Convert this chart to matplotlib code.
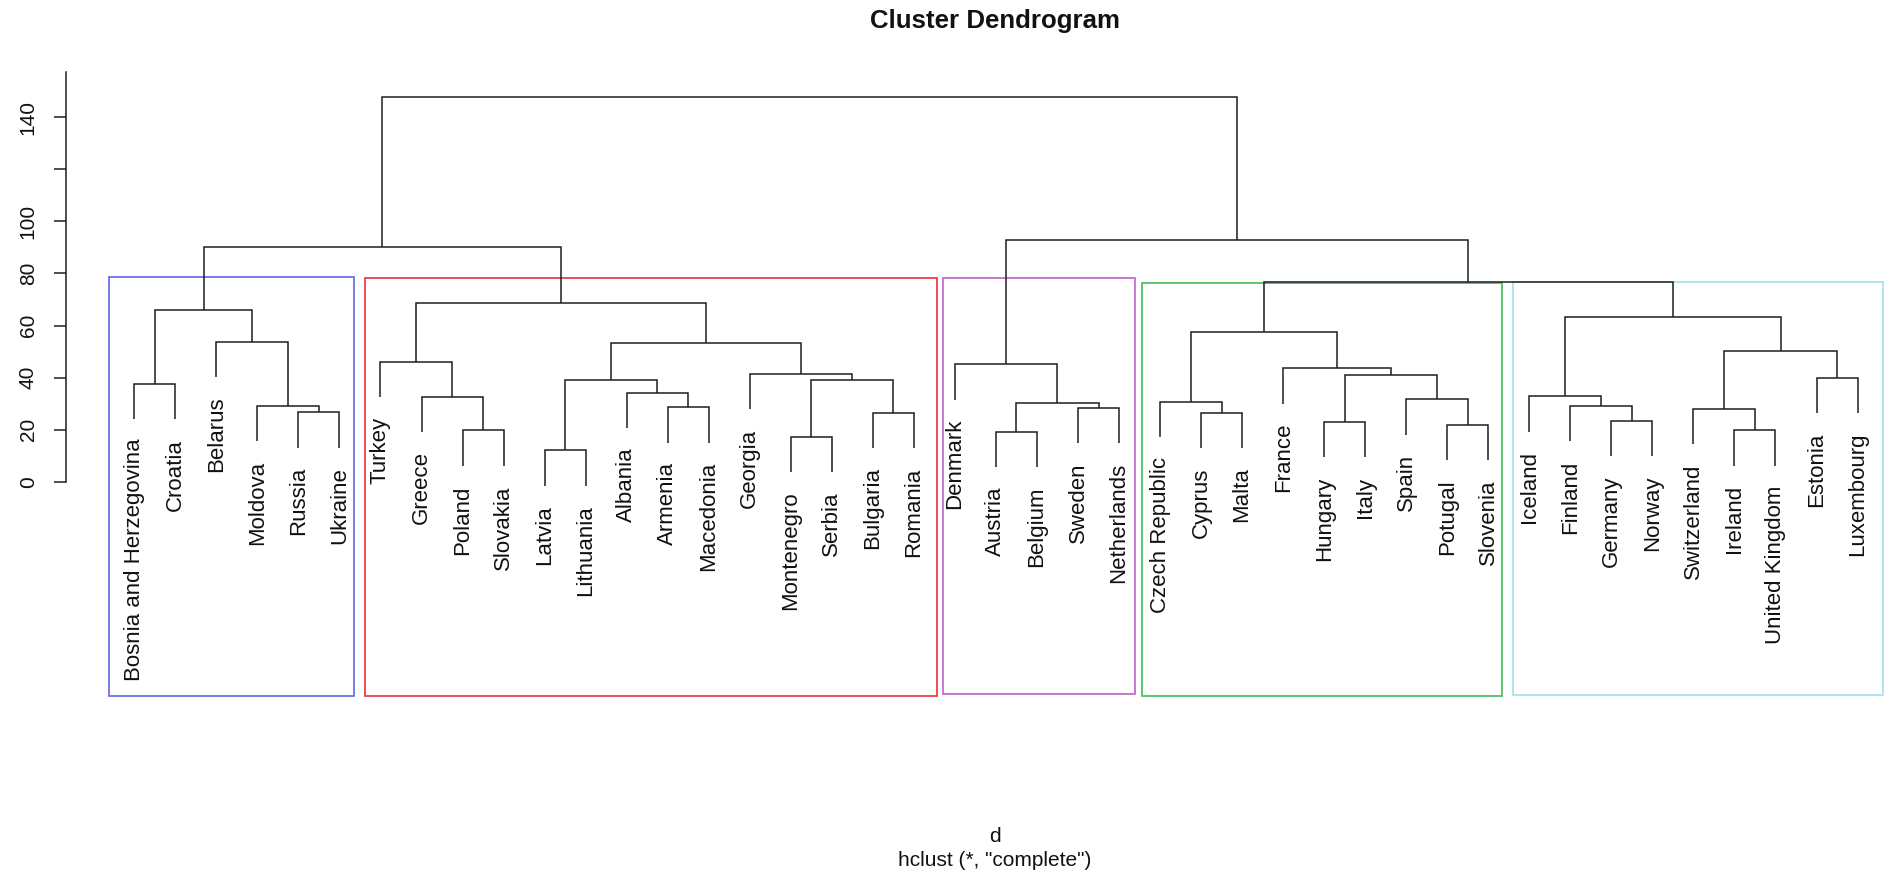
import matplotlib
matplotlib.use('Agg')
import matplotlib.pyplot as plt
from matplotlib.patches import Rectangle

plt.rcParams['font.family'] = ['Liberation Sans', 'DejaVu Sans']

# ---- data: leaf order and merges (hclust, complete linkage) ----
labels = ['Bosnia and Herzegovina', 'Croatia', 'Belarus', 'Moldova', 'Russia', 'Ukraine',
          'Turkey', 'Greece', 'Poland', 'Slovakia', 'Latvia', 'Lithuania', 'Albania',
          'Armenia', 'Macedonia', 'Georgia', 'Montenegro', 'Serbia', 'Bulgaria', 'Romania',
          'Denmark', 'Austria', 'Belgium', 'Sweden', 'Netherlands',
          'Czech Republic', 'Cyprus', 'Malta', 'France', 'Hungary', 'Italy', 'Spain',
          'Potugal', 'Slovenia',
          'Iceland', 'Finland', 'Germany', 'Norway', 'Switzerland', 'Ireland',
          'United Kingdom', 'Estonia', 'Luxembourg']

# strings = leaves, ints = index of an earlier merge
merge_a = ['Latvia', 'Montenegro', 'Austria', 'Poland', 'Ireland', 'Potugal', 'Hungary',
           'Germany', 'Bulgaria', 'Cyprus', 'Russia', 'Switzerland', 'Sweden', 'Armenia',
           'Moldova', 'Finland', 2, 'Czech Republic', 'Spain', 'Greece', 'Iceland', 'Albania',
           'Bosnia and Herzegovina', 0, 1, 'Estonia', 6, 'Georgia', 'France', 'Denmark',
           'Turkey', 11, 23, 'Belarus', 17, 20, 22, 30, 34, 36, 29, 39]
merge_b = ['Lithuania', 'Serbia', 'Belgium', 'Slovakia', 'United Kingdom', 'Slovenia', 'Italy',
           'Norway', 'Romania', 'Malta', 'Ukraine', 4, 'Netherlands', 'Macedonia',
           10, 7, 12, 9, 5, 3, 15, 13,
           'Croatia', 21, 8, 'Luxembourg', 18, 24, 26, 16,
           19, 25, 27, 14, 28, 31, 33, 32, 35, 37, 38, 40]
merge_height = [12.1, 17.2, 19.2, 19.7, 19.7, 21.8, 22.9, 23.3, 26.5, 26.5, 26.7, 28.0,
                28.4, 28.6, 29.1, 29.1, 30.1, 30.6, 31.7, 32.7, 32.8, 34.2, 37.5, 38.9,
                38.9, 40.0, 41.0, 41.5, 43.6, 45.1, 46.1, 50.3, 53.4, 53.8, 57.5, 63.3,
                65.9, 68.5, 76.7, 90.0, 92.8, 147.8]

# rect.hclust style boxes (k = 5)
box_colors = ['#6e6ee8', '#ee3c4a', '#c070cc', '#50c062', '#a8e2ef']
box_left = [-0.62, 5.62, 19.70, 24.57, 33.60]
box_right = [5.35, 19.57, 24.40, 33.34, 42.63]
box_top = [78.7, 78.1, 78.4, 76.2, 76.7]
box_bottom = [-82.5, -82.5, -81.6, -82.5, -82.1]

y_ticks = [0, 20, 40, 60, 80, 100, 120, 140]
y_ticklabels = ['0', '20', '40', '60', '80', '100', '', '140']

# ---- figure ----
W, H = 1890, 877
fig = plt.figure(figsize=(W / 100, H / 100), dpi=100)
px_left, px_right, px_top, px_bottom = 65.7, 1885.0, 60.0, 720.0
ax = fig.add_axes([px_left / W, 1 - px_bottom / H,
                   (px_right - px_left) / W, (px_bottom - px_top) / H])

# leaf i -> pixel 134.3 + 41.03 i ; value v -> pixel 481.7 - 2.603 v
x0, dx = 134.3, 41.03
y0, dy = 481.7, 2.603
ax.set_xlim((px_left - x0) / dx, (px_right - x0) / dx)
ax.set_ylim((y0 - px_bottom) / dy, (y0 - px_top) / dy)

line_kw = dict(color='#1e1e1e', lw=1.1, solid_capstyle='butt', solid_joinstyle='miter')

pos = {name: i for i, name in enumerate(labels)}
hang = 0.1 * (max(merge_height) - min(merge_height))
node_x = []
leaf_end = {}

def coord(ref, h):
    if isinstance(ref, str):
        leaf_end[ref] = h - hang
        return pos[ref], h - hang
    return node_x[ref], merge_height[ref]

for a, b, h in zip(merge_a, merge_b, merge_height):
    xa, ya = coord(a, h)
    xb, yb = coord(b, h)
    ax.plot([xa, xa, xb, xb], [ya, h, h, yb], **line_kw)
    node_x.append((xa + xb) / 2)

for name in labels:
    ax.annotate(name, xy=(pos[name], leaf_end[name]), xytext=(0, -14),
                textcoords='offset points', rotation=90, ha='center', va='top',
                fontsize=16, color='#111111', annotation_clip=False)

for c, l, r, t, b in zip(box_colors, box_left, box_right, box_top, box_bottom):
    ax.add_patch(Rectangle((l, b), r - l, t - b, fill=False, edgecolor=c, lw=1.3,
                           clip_on=False))

# axis styling (R base graphics look)
for s in ['top', 'right', 'bottom']:
    ax.spines[s].set_visible(False)
ax.spines['left'].set_bounds(0, 157.5)
ax.spines['left'].set_color('#1e1e1e')
ax.spines['left'].set_linewidth(1.1)
ax.set_xticks([])
ax.set_yticks(y_ticks)
ax.set_yticklabels(y_ticklabels)
ax.tick_params(axis='y', length=8.9, width=1.1, color='#1e1e1e', pad=18.0,
               labelsize=15, labelcolor='#111111')
for t in ax.get_yticklabels():
    t.set_rotation(90)
    t.set_ha('center')
    t.set_va('center')

fig.text(995 / W, 1 - 21 / H, 'Cluster Dendrogram', ha='center', va='center',
         fontsize=18.6, fontweight='bold', color='#111111')
fig.text(995 / W, 1 - 836 / H, 'd', ha='center', va='center', fontsize=15, color='#111111')
fig.text(995 / W, 1 - 860 / H, 'hclust (*, "complete")', ha='center', va='center',
         fontsize=15, color='#111111')

fig.savefig('out.png', dpi=100, facecolor='white')
